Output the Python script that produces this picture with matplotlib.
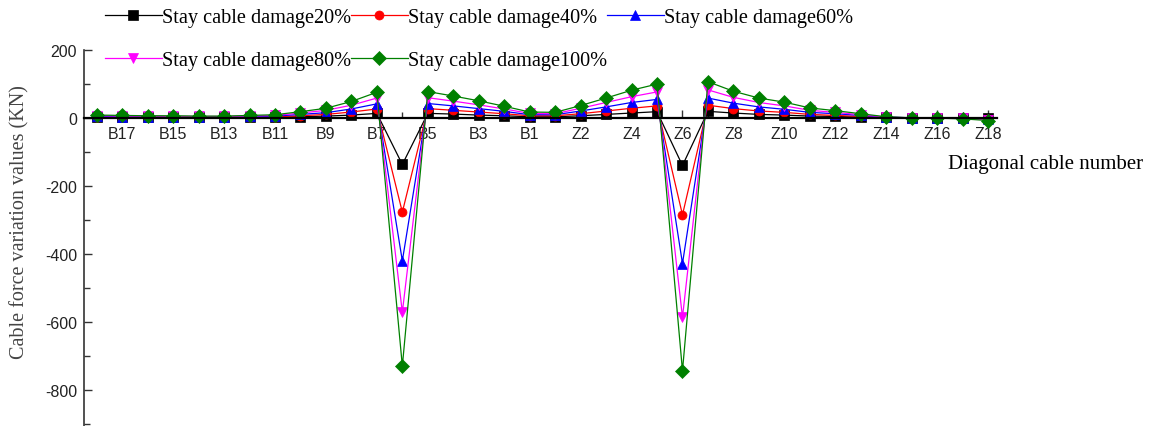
import matplotlib.pyplot as plt
from matplotlib.ticker import MultipleLocator, FixedLocator

plt.rcParams["axes.unicode_minus"] = False

# cable numbers along the deck: B18 ... B1, Z1 ... Z18
cables = [f"B{i}" for i in range(18, 0, -1)] + [f"Z{i}" for i in range(1, 19)]

# cable force change (kN) for each damage level
dmg20 = [1, 1, 1, 1, 1, 1, 1, 2, 3, 5, 8, 13, -137, 13, 11, 8, 6, 3,
         3, 6, 10, 14, 18, -140, 19, 14, 10, 8, 5, 4, 2, 1, 0, 0, -1, -2]
dmg40 = [2, 2, 2, 2, 2, 2, 2, 3, 6, 10, 17, 26, -277, 27, 22, 17, 12, 6,
         6, 12, 20, 28, 35, -285, 37, 27, 20, 16, 10, 7, 4, 1, 0, 0, -1, -3]
dmg60 = [4, 3, 3, 3, 3, 3, 4, 5, 10, 15, 26, 41, -420, 42, 35, 27, 19, 9,
         9, 20, 32, 45, 54, -428, 58, 43, 32, 25, 16, 12, 7, 2, 0, -1, -2, -4]
dmg80 = [6, 5, 5, 4, 4, 4, 5, 7, 14, 22, 37, 58, -571, 59, 49, 38, 26, 13,
         12, 28, 45, 62, 76, -586, 82, 60, 45, 35, 22, 16, 9, 2, 0, -1, -2, -6]
dmg100 = [8, 7, 6, 6, 5, 5, 7, 9, 18, 28, 48, 75, -729, 77, 64, 50, 34, 17,
          16, 36, 58, 81, 99, -743, 106, 78, 58, 46, 29, 21, 12, 3, 0, -1, -3, -8]

labels = ["Stay cable damage20%", "Stay cable damage40%", "Stay cable damage60%",
          "Stay cable damage80%", "Stay cable damage100%"]
series = [dmg20, dmg40, dmg60, dmg80, dmg100]
colors = ["black", "red", "blue", "magenta", "green"]
markers = ["s", "o", "^", "v", "D"]
msizes = [6.5, 6.5, 7, 7, 7.5]

serif = ["Liberation Serif", "DejaVu Serif"]
sans = ["Liberation Sans", "DejaVu Sans"]

fig = plt.figure(figsize=(11.57, 4.27), dpi=100)
ax = fig.add_axes([84 / 1157, 0.0, (997 - 84) / 1157, 1 - 50.7 / 427])

x = list(range(len(cables)))
lines = []
for ys, c, m, ms, lab in zip(series, colors, markers, msizes, labels):
    ln, = ax.plot(x, ys, color=c, marker=m, markersize=ms, lw=0.9,
                  markeredgewidth=0.5, label=lab)
    lines.append(ln)

ax.set_xlim(-0.5, 35.35)
ax.set_ylim(-905, 200)

ax.spines["top"].set_visible(False)
ax.spines["right"].set_visible(False)
ax.spines["bottom"].set_position(("data", 0))
ax.spines["bottom"].set_linewidth(1.6)
ax.spines["left"].set_linewidth(1.2)
ax.spines["left"].set_color("#333333")

major_x = x[1::2]
ax.xaxis.set_major_locator(FixedLocator(major_x))
ax.xaxis.set_minor_locator(FixedLocator(x[0::2]))
ax.set_xticklabels([cables[i] for i in major_x])
ax.yaxis.set_major_locator(MultipleLocator(200))
ax.yaxis.set_minor_locator(MultipleLocator(100))

ax.tick_params(axis="both", which="major", direction="in", length=6, width=1,
               labelsize=11.5, colors="#333333", labelcolor="#222222")
ax.tick_params(axis="both", which="minor", direction="in", length=4, width=1,
               colors="#333333")
ax.tick_params(axis="x", which="major", pad=6)
ax.tick_params(axis="y", which="major", pad=5)
for t in ax.get_xticklabels() + ax.get_yticklabels():
    t.set_family(sans)

ax.set_ylabel("Cable force variation values (KN)", family=serif, fontsize=14.5,
              color="#444444")
ax.yaxis.set_label_coords(-0.06, 0.545)
fig.text(948 / 1157, 1 - 165 / 427, "Diagonal cable number", family=serif,
         fontsize=15, va="center", ha="left")

# legend: two rows, 20/40/60 on top, 80/100 below
order = [0, 3, 1, 4, 2]
fig.legend([lines[i] for i in order], [labels[i] for i in order],
           loc="upper left", bbox_to_anchor=(105 / 1157, 1 - 9 / 427), ncol=3,
           frameon=False, columnspacing=0, handletextpad=0, handlelength=2.8,
           borderpad=0, borderaxespad=0, labelspacing=1.15,
           prop={"family": serif, "size": 14.6})

fig.savefig("out.png", dpi=100)
